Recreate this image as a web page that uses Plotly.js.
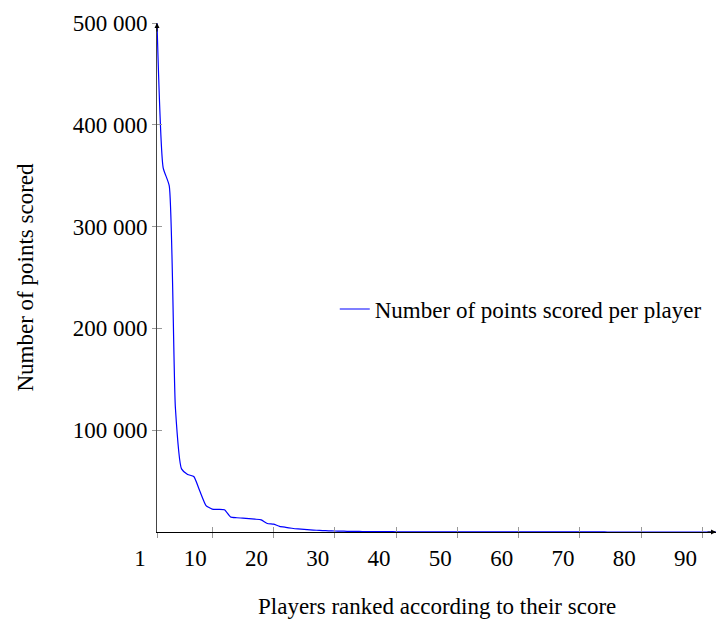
<!DOCTYPE html>
<html>
<head>
<meta charset="utf-8">
<script src="https://cdn.plot.ly/plotly-3.0.1.min.js"></script>
<style>html,body{margin:0;padding:0;background:#fff;}#chart{width:717px;height:619px;}</style>
</head>
<body>
<div id="chart"></div>
<script>
const ranks = [1,2,3,4,5,6,7,8,9,10,11,12,13,14,15,16,17,18,19,20,
  21,22,23,24,25,26,27,28,29,30,31,32,33,34,35,36,37,38,39,40,
  41,42,43,44,45,46,47,48,49,50,51,52,53,54,55,56,57,58,59,60,
  61,62,63,64,65,66,67,68,69,70,71,72,73,74,75,76,77,78,79,80,
  81,82,83,84,85,86,87,88,89,90,91,92,93];
const points = [500000,358000,340000,122000,62000,56500,54500,40000,26000,22500,
  22200,21800,14800,14000,13600,13100,12600,11900,8400,7700,
  5600,4600,3700,3000,2500,2100,1700,1400,1200,1000,
  850,700,600,520,460,410,370,330,300,270,
  245,225,205,190,175,160,150,140,130,120,
  112,105,98,92,86,80,75,70,66,62,
  58,55,52,49,46,43,40,38,36,34,
  32,30,28,26,24,22,20,19,18,17,
  16,15,14,13,12,11,10,9,8,7,
  6,5,4];
const xTickVals = [1,10,20,30,40,50,60,70,80,90];
const xTickText = ['1','10','20','30','40','50','60','70','80','90'];
const yTickVals = [100000,200000,300000,400000,500000];
const yTickText = ['100 000','200 000','300 000','400 000','500 000'];
const seriesName = 'Number of points scored per player';
const xTitle = 'Players ranked according to their score';
const yTitle = 'Number of points scored';

const FONT = 'Liberation Serif, Times New Roman, serif';
const FS = 23;
const XR = [1, 92.2], YR = [0, 500000];

const traces = [
  {x: ranks, y: points, type: 'scatter', mode: 'lines', name: seriesName,
   line: {color: '#0000ff', width: 1.2, shape: 'spline', smoothing: 0.5}},
  {x: [], y: [], type: 'scatter', mode: 'lines', xaxis: 'x2', yaxis: 'y2', showlegend: false}
];

const layout = {
  width: 717, height: 619,
  margin: {l: 157, r: 1, t: 23, b: 87},
  paper_bgcolor: '#fff', plot_bgcolor: '#fff',
  font: {family: FONT, size: FS, color: '#000'},
  showlegend: true,
  legend: {x: 0.318, y: 0.438, xanchor: 'left', yanchor: 'middle', bgcolor: 'rgba(0,0,0,0)',
           font: {family: FONT, size: FS}},
  xaxis: {range: XR, showgrid: false, zeroline: false, showline: true, linecolor: '#000', linewidth: 1,
          tickmode: 'array', tickvals: xTickVals, ticktext: xTickText,
          ticks: 'outside', ticklen: 5, tickcolor: '#999', tickwidth: 1,
          ticklabelshift: -17},
  yaxis: {range: YR, showgrid: false, zeroline: false, showline: true, linecolor: '#444', linewidth: 1,
          tickmode: 'array', tickvals: yTickVals, ticktext: yTickText,
          ticks: 'outside', ticklen: 4, tickcolor: '#999', tickwidth: 1,
          title: {text: yTitle, font: {family: FONT, size: FS}, standoff: 32}},
  xaxis2: {overlaying: 'x', anchor: 'y', range: XR, showgrid: false, zeroline: false, showline: false,
           tickmode: 'array', tickvals: xTickVals, ticks: 'inside', ticklen: 5, tickcolor: '#999',
           showticklabels: false},
  yaxis2: {overlaying: 'y', anchor: 'x', range: YR, showgrid: false, zeroline: false, showline: false,
           tickmode: 'array', tickvals: yTickVals, ticks: 'inside', ticklen: 5, tickcolor: '#999',
           showticklabels: false},
  annotations: [
    {x: 0.5, y: 0, xref: 'paper', yref: 'paper', text: xTitle, showarrow: false,
     xanchor: 'center', yanchor: 'middle', yshift: -74, font: {family: FONT, size: FS, color: '#000'}},
    {x: 1, y: 500000, xref: 'x', yref: 'y', ax: 0, ay: 10, text: '', showarrow: true,
     arrowhead: 2, arrowsize: 1, arrowwidth: 1, arrowcolor: '#000'},
    {x: 1, y: 0, xref: 'paper', yref: 'y', ax: -10, ay: 0, text: '', showarrow: true,
     arrowhead: 2, arrowsize: 1, arrowwidth: 1, arrowcolor: '#000'}
  ]
};

Plotly.newPlot('chart', traces, layout, {staticPlot: true, displayModeBar: false});
</script>
</body>
</html>
